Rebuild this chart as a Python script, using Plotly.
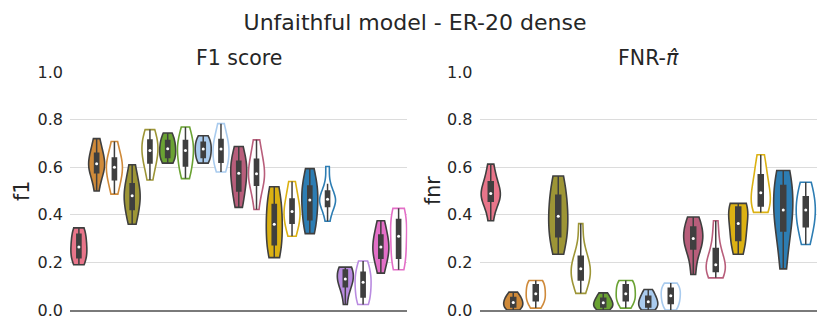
import numpy as np
import plotly.graph_objects as go
from plotly.subplots import make_subplots

# slot labels: method + variant ("a" = filled, "b" = outline)
f1_labels = ["M0-a", "M1-a", "M1-b", "M2-a", "M2-b", "M3-a", "M3-b", "M4-a", "M4-b",
             "M5-a", "M5-b", "M6-a", "M6-b", "M7-a", "M7-b", "M8-a", "M8-b", "M9-a", "M9-b"]
f1_values = [
    [0.19, 0.21, 0.223, 0.25, 0.265, 0.28, 0.314, 0.33, 0.345],
    [0.50, 0.56, 0.582, 0.60, 0.614, 0.63, 0.652, 0.68, 0.72],
    [0.487, 0.53, 0.553, 0.58, 0.60, 0.615, 0.631, 0.66, 0.708],
    [0.36, 0.40, 0.43, 0.46, 0.48, 0.50, 0.52, 0.56, 0.61],
    [0.546, 0.60, 0.624, 0.65, 0.67, 0.69, 0.708, 0.735, 0.758],
    [0.617, 0.63, 0.645, 0.66, 0.677, 0.69, 0.708, 0.725, 0.744],
    [0.552, 0.59, 0.61, 0.645, 0.67, 0.685, 0.704, 0.735, 0.769],
    [0.617, 0.63, 0.645, 0.66, 0.676, 0.69, 0.70, 0.72, 0.732],
    [0.58, 0.61, 0.624, 0.65, 0.676, 0.69, 0.708, 0.74, 0.783],
    [0.431, 0.48, 0.507, 0.55, 0.575, 0.595, 0.617, 0.65, 0.687],
    [0.422, 0.50, 0.532, 0.555, 0.572, 0.595, 0.624, 0.66, 0.715],
    [0.22, 0.25, 0.282, 0.33, 0.36, 0.40, 0.431, 0.48, 0.518],
    [0.31, 0.35, 0.37, 0.395, 0.414, 0.435, 0.455, 0.50, 0.54],
    [0.321, 0.36, 0.385, 0.43, 0.462, 0.49, 0.511, 0.55, 0.594],
    [0.373, 0.42, 0.44, 0.455, 0.465, 0.475, 0.49, 0.53, 0.603],
    [0.023, 0.08, 0.103, 0.12, 0.13, 0.145, 0.166, 0.175, 0.18],
    [0.023, 0.04, 0.06, 0.09, 0.117, 0.13, 0.152, 0.18, 0.206],
    [0.155, 0.20, 0.223, 0.25, 0.265, 0.28, 0.307, 0.34, 0.375],
    [0.169, 0.20, 0.223, 0.27, 0.31, 0.34, 0.37, 0.41, 0.427],
]

fnr_labels = ["M0-a", "M1-a", "M1-b", "M2-a", "M2-b", "M3-a", "M3-b", "M4-a", "M4-b",
              "M5-a", "M5-b", "M6-a", "M6-b", "M7-a", "M7-b"]
fnr_values = [
    [0.375, 0.44, 0.462, 0.48, 0.49, 0.50, 0.532, 0.56, 0.613],
    [0.0, 0.008, 0.014, 0.025, 0.032, 0.04, 0.05, 0.06, 0.075],
    [0.008, 0.03, 0.042, 0.055, 0.068, 0.085, 0.103, 0.115, 0.124],
    [0.234, 0.29, 0.314, 0.36, 0.394, 0.43, 0.469, 0.52, 0.563],
    [0.07, 0.11, 0.131, 0.155, 0.173, 0.19, 0.215, 0.26, 0.363],
    [0.0, 0.008, 0.014, 0.022, 0.03, 0.038, 0.046, 0.06, 0.072],
    [0.008, 0.03, 0.042, 0.055, 0.068, 0.085, 0.103, 0.115, 0.124],
    [0.0, 0.008, 0.014, 0.025, 0.035, 0.045, 0.054, 0.07, 0.086],
    [0.0, 0.015, 0.032, 0.045, 0.06, 0.075, 0.089, 0.10, 0.113],
    [0.149, 0.23, 0.265, 0.285, 0.30, 0.32, 0.342, 0.37, 0.391],
    [0.135, 0.15, 0.166, 0.18, 0.19, 0.215, 0.244, 0.30, 0.375],
    [0.234, 0.27, 0.30, 0.34, 0.363, 0.40, 0.431, 0.44, 0.448],
    [0.41, 0.43, 0.44, 0.47, 0.493, 0.52, 0.558, 0.60, 0.652],
    [0.173, 0.28, 0.349, 0.39, 0.42, 0.47, 0.511, 0.56, 0.586],
    [0.275, 0.33, 0.356, 0.39, 0.42, 0.44, 0.465, 0.51, 0.537],
]

palette = {
    "M0": "#e8758a", "M1": "#cf8a3a", "M2": "#9d9536", "M3": "#6aa233", "M4": "#a9cbee",
    "M5": "#b85e7b", "M6": "#dbb113", "M7": "#2d7db3", "M8": "#b98be0", "M9": "#e36fc7",
}
DARK = "#3f3f3f"
FONT = "DejaVu Sans"

fig = make_subplots(rows=1, cols=2, horizontal_spacing=0.0964)


def add_panel(labels, values, col, width):
    for i, (lab, vals) in enumerate(zip(labels, values)):
        method, variant = lab.split("-")
        c = palette[method]
        filled = variant == "a"
        fig.add_trace(go.Violin(
            x0=i, y=vals, name=lab, showlegend=False,
            fillcolor=c if filled else "white",
            line=dict(color=DARK if filled else c, width=1.6),
            spanmode="hard", points=False, scalemode="count",
            scalegroup="g%d" % col, width=width,
            box=dict(visible=True, width=0.26, fillcolor=DARK,
                     line=dict(color=DARK, width=1.5)),
            meanline=dict(visible=False), hoverinfo="skip",
        ), row=1, col=col)
    # white median dots
    fig.add_trace(go.Scatter(
        x=list(range(len(values))), y=[float(np.median(v)) for v in values],
        mode="markers", marker=dict(color="white", size=3), showlegend=False,
        hoverinfo="skip",
    ), row=1, col=col)


add_panel(f1_labels, f1_values, 1, 0.9)
add_panel(fnr_labels, fnr_values, 2, 0.85)

fig.update_xaxes(showticklabels=False, showgrid=False, zeroline=False, ticks="",
                 showline=True, linecolor="#7a7a7a", linewidth=2)
fig.update_xaxes(range=[-0.5, len(f1_values) - 0.5], row=1, col=1)
fig.update_xaxes(range=[-0.5, len(fnr_values) - 0.5], row=1, col=2)
fig.update_yaxes(range=[0, 1], tickvals=[0, 0.2, 0.4, 0.6, 0.8, 1.0], tickformat=".1f",
                 showgrid=True, gridcolor="#dcdcdc", gridwidth=1, zeroline=False,
                 showline=False, ticks="", ticklabelstandoff=6,
                 tickfont=dict(family=FONT, size=16, color="#262626"))

# page body has an 8px margin, so the figure is drawn 8px smaller
fig.update_layout(
    width=822, height=324,
    margin=dict(l=62, r=13, t=64, b=15),
    plot_bgcolor="white", paper_bgcolor="white",
    font=dict(family=FONT, color="#262626"),
    violingap=0, violingroupgap=0,
    title=dict(text="Unfaithful model - ER-20 dense", x=407 / 822, xanchor="center",
               y=1 - 14 / 324, yanchor="middle", yref="container",
               font=dict(family=FONT, size=22, color="#262626")),
    annotations=[
        dict(text="F1 score", x=0.2262, y=1.0, xref="paper", yref="paper",
             xanchor="center", yanchor="bottom", showarrow=False,
             font=dict(family=FONT, size=20.5, color="#262626")),
        dict(text="FNR-<i>π̂</i>", x=0.7745, y=1.0, xref="paper", yref="paper",
             xanchor="center", yanchor="bottom", showarrow=False,
             font=dict(family=FONT, size=20.5, color="#262626")),
        dict(text="f1", x=-0.0643, y=0.5, xref="paper", yref="paper",
             xanchor="center", yanchor="middle", textangle=-90, showarrow=False,
             font=dict(family=FONT, size=20.5, color="#262626")),
        dict(text="fnr", x=0.486, y=0.5, xref="paper", yref="paper",
             xanchor="center", yanchor="middle", textangle=-90, showarrow=False,
             font=dict(family=FONT, size=20.5, color="#262626")),
    ],
)

fig.write_html("out.html")
